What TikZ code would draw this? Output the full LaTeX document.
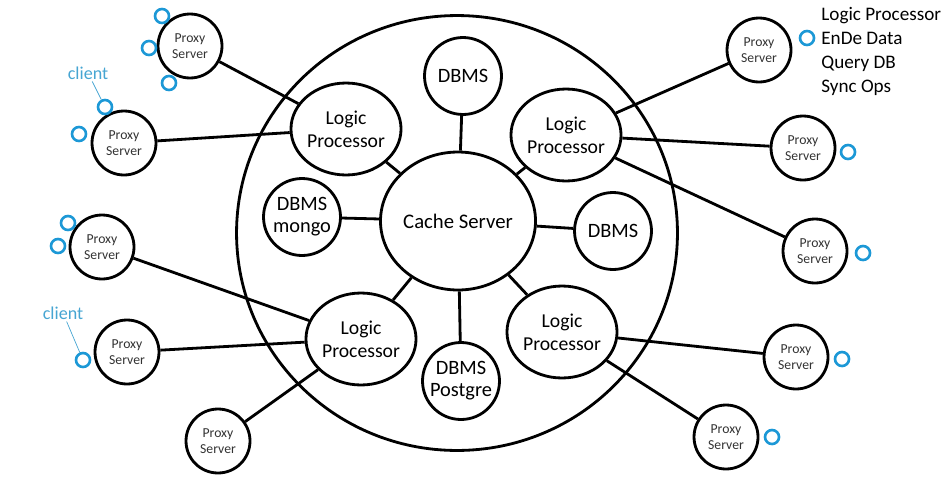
\documentclass[tikz,border=0pt]{standalone}
\usepackage{fontspec}
\setmainfont{Carlito}
\usetikzlibrary{shapes.geometric}

\definecolor{clientblue}{RGB}{28,152,214}
\definecolor{clienttext}{RGB}{70,165,210}

\tikzset{
  unit/.style={draw, ellipse, line width=1.6pt, inner sep=0pt, align=center, fill=white},
  zone/.style={draw, ellipse, line width=1.6pt, minimum width=8.82cm, minimum height=8.7cm},
  cache/.style={unit, minimum width=3.08cm, minimum height=2.76cm, font=\fontsize{11.8}{14}\selectfont},
  logic/.style={unit, minimum width=2.08cm, minimum height=1.84cm, font=\fontsize{11.2}{13}\selectfont},
  dbms/.style={unit, circle, minimum size=1.54cm, font=\fontsize{11.6}{12.5}\selectfont},
  proxy/.style={unit, circle, minimum size=1.28cm, font=\fontsize{7.8}{9}\selectfont, text=black!80},
  client/.style={draw=clientblue, circle, line width=1.5pt, minimum size=0.28cm, inner sep=0pt},
  clientlabel/.style={text=clienttext, font=\fontsize{10.3}{12}\selectfont, inner sep=1pt},
  leader/.style={draw=clienttext, line width=0.4pt},
  link/.style={line width=1.6pt},
}

\begin{document}
\begin{tikzpicture}[x=0.02cm,y=-0.02cm]
  \useasboundingbox (0,0) rectangle (952,480);

  % outer domain
  \node[zone] (domain) at (457,233) {};

  % core
  \node[cache] (cache) at (458,221) {Cache Server};
  \node[dbms] (dbn) at (463,76) {DBMS};
  \node[dbms] (dbw) at (302,217) {DBMS\\mongo};
  \node[dbms] (dbe) at (613,231) {DBMS};
  \node[dbms] (dbs) at (461,381) {DBMS\\Postgre};
  \node[logic] (lpa) at (346,129) {Logic\\Processor};
  \node[logic] (lpb) at (566,135) {Logic\\Processor};
  \node[logic] (lpc) at (361,339) {Logic\\Processor};
  \node[logic] (lpd) at (562,332) {Logic\\Processor};

  % proxies
  \node[proxy] (pxa) at (190,46) {Proxy\\Server};
  \node[proxy] (pxb) at (124,143) {Proxy\\Server};
  \node[proxy] (pxc) at (102,247) {Proxy\\Server};
  \node[proxy] (pxd) at (127,352) {Proxy\\Server};
  \node[proxy] (pxe) at (218,441) {Proxy\\Server};
  \node[proxy] (pxf) at (759,50) {Proxy\\Server};
  \node[proxy] (pxg) at (803,148) {Proxy\\Server};
  \node[proxy] (pxh) at (815,251) {Proxy\\Server};
  \node[proxy] (pxi) at (796,357) {Proxy\\Server};
  \node[proxy] (pxj) at (726,437) {Proxy\\Server};

  % links
  \draw[link] (cache) -- (dbn);
  \draw[link] (cache) -- (dbw);
  \draw[link] (cache) -- (dbe);
  \draw[link] (cache) -- (dbs);
  \draw[link] (cache) -- (lpa);
  \draw[link] (cache) -- (lpb);
  \draw[link] (cache) -- (lpc);
  \draw[link] (cache) -- (lpd);
  \draw[link] (pxa) -- (lpa);
  \draw[link] (pxb) -- (lpa);
  \draw[link] (pxc) -- (lpc);
  \draw[link] (pxd) -- (lpc);
  \draw[link] (pxe) -- (lpc);
  \draw[link] (pxf) -- (lpb);
  \draw[link] (pxg) -- (lpb);
  \draw[link] (pxh) -- (lpb);
  \draw[link] (pxi) -- (lpd);
  \draw[link] (pxj) -- (lpd);

  % clients
  \node[client] (ca) at (162,16) {};
  \node[client] (cb) at (149,48) {};
  \node[client] (cc) at (169,83) {};
  \node[client] (cd) at (105,107) {};
  \node[client] (ce) at (79,134) {};
  \node[client] (cf) at (68,223) {};
  \node[client] (cg) at (58,246) {};
  \node[client] (ch) at (83,360) {};
  \node[client] (ci) at (807,38) {};
  \node[client] (cj) at (848,152) {};
  \node[client] (ck) at (863,253) {};
  \node[client] (cl) at (842,359) {};
  \node[client] (cm) at (772,437) {};

  \node[clientlabel] (cla) at (88,73) {client};
  \node[clientlabel] (clb) at (63,313) {client};
  \draw[leader] (cla) -- (cd);
  \draw[leader] (clb) -- (ch);

  % legend
  \node[anchor=north west, align=left, inner sep=0pt, font=\fontsize{10.9}{13.6}\selectfont]
    (legend) at (821,7) {Logic Processor\\EnDe Data\\Query DB\\Sync Ops};
\end{tikzpicture}
\end{document}
